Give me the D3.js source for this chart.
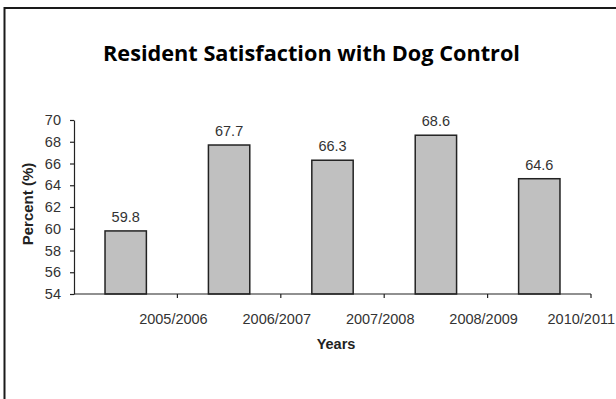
<!DOCTYPE html>
<html>
<head>
<meta charset="utf-8">
<script src="https://cdn.jsdelivr.net/npm/d3@7"></script>
<style>
  html, body { margin: 0; padding: 0; background: #fff; }
  svg { display: block; }
</style>
</head>
<body>
<svg id="chart" width="616" height="399"></svg>
<script>
// Survey results by year
const years = ["2005/2006", "2006/2007", "2007/2008", "2008/2009", "2010/2011"];
const percent = [59.8, 67.7, 66.3, 68.6, 64.6];
const yTicks = [54, 56, 58, 60, 62, 64, 66, 68, 70];

const svg = d3.select("#chart");
const W = 616, H = 399;

// frame around the chart area
svg.append("rect")
  .attr("x", 4.5).attr("y", 8)
  .attr("width", W + 10).attr("height", H + 10)
  .attr("fill", "#fff").attr("stroke", "#1a1a1a").attr("stroke-width", 2);

svg.append("text")
  .attr("x", 311.5).attr("y", 61)
  .attr("text-anchor", "middle")
  .attr("font-family", "'Open Sans', sans-serif")
  .attr("font-weight", "bold")
  .attr("font-size", 20.5)
  .attr("textLength", 417)
  .attr("lengthAdjust", "spacingAndGlyphs")
  .attr("fill", "#000")
  .text("Resident Satisfaction with Dog Control");

const plotLeft = 74, plotRight = 591, plotTop = 120, plotBottom = 294;

const x = d3.scaleBand().domain(years).range([plotLeft, plotRight])
  .paddingInner(0.6).paddingOuter(0.3);
const step = x.step();
const y = d3.scaleLinear().domain([54, 70]).range([plotBottom, plotTop]);

const axisFont = "'Liberation Sans', Arial, sans-serif";
const labelSize = 14.5;

// y axis
const gy = svg.append("g").attr("transform", `translate(${plotLeft},0)`)
  .call(d3.axisLeft(y).tickValues(yTicks).tickSize(4).tickPadding(9).tickSizeOuter(0));
gy.select(".domain").attr("stroke", "#222").attr("stroke-width", 1.2);
gy.selectAll(".tick line").attr("stroke", "#222").attr("stroke-width", 1.2);
gy.selectAll(".tick text").attr("font-family", axisFont).attr("font-size", labelSize).attr("fill", "#333");

// bars
svg.append("g").selectAll("rect").data(years).join("rect")
  .attr("x", d => x(d))
  .attr("y", (d, i) => y(percent[i]))
  .attr("width", x.bandwidth())
  .attr("height", (d, i) => y(54) - y(percent[i]))
  .attr("fill", "#c0c0c0")
  .attr("stroke", "#222")
  .attr("stroke-width", 1.5);

// value labels
svg.append("g").selectAll("text").data(years).join("text")
  .attr("x", d => x(d) + x.bandwidth() / 2)
  .attr("y", (d, i) => y(percent[i]) - 9)
  .attr("text-anchor", "middle")
  .attr("font-family", axisFont).attr("font-size", labelSize).attr("fill", "#333")
  .text((d, i) => percent[i].toFixed(1));

// x axis: ticks at category boundaries
const boundaries = d3.range(years.length + 1).map(i => plotLeft + i * step);
const gx = svg.append("g");
gx.append("line")
  .attr("x1", plotLeft).attr("x2", plotRight).attr("y1", plotBottom).attr("y2", plotBottom)
  .attr("stroke", "#222").attr("stroke-width", 1.2);
gx.selectAll("line.tick").data(boundaries.slice(1)).join("line")
  .attr("class", "tick")
  .attr("x1", d => d).attr("x2", d => d)
  .attr("y1", plotBottom).attr("y2", plotBottom + 4)
  .attr("stroke", "#222").attr("stroke-width", 1.2);
gx.selectAll("text").data(years).join("text")
  .attr("y", 324)
  .attr("text-anchor", "middle")
  .attr("font-family", axisFont).attr("font-size", labelSize).attr("fill", "#333")
  .text(d => d)
  .attr("x", function (d, i) {
    // keep the last label inside the frame
    const half = this.getComputedTextLength() / 2;
    return Math.min(boundaries[i + 1] - 4, W - 1 - half);
  });

// axis titles
svg.append("text")
  .attr("x", 336).attr("y", 349)
  .attr("text-anchor", "middle")
  .attr("font-family", axisFont).attr("font-weight", "bold").attr("font-size", 14.5)
  .attr("fill", "#222")
  .text("Years");

svg.append("text")
  .attr("transform", "translate(33,204) rotate(-90)")
  .attr("text-anchor", "middle")
  .attr("font-family", axisFont).attr("font-weight", "bold").attr("font-size", 15)
  .attr("fill", "#222")
  .text("Percent (%)");
</script>
</body>
</html>
